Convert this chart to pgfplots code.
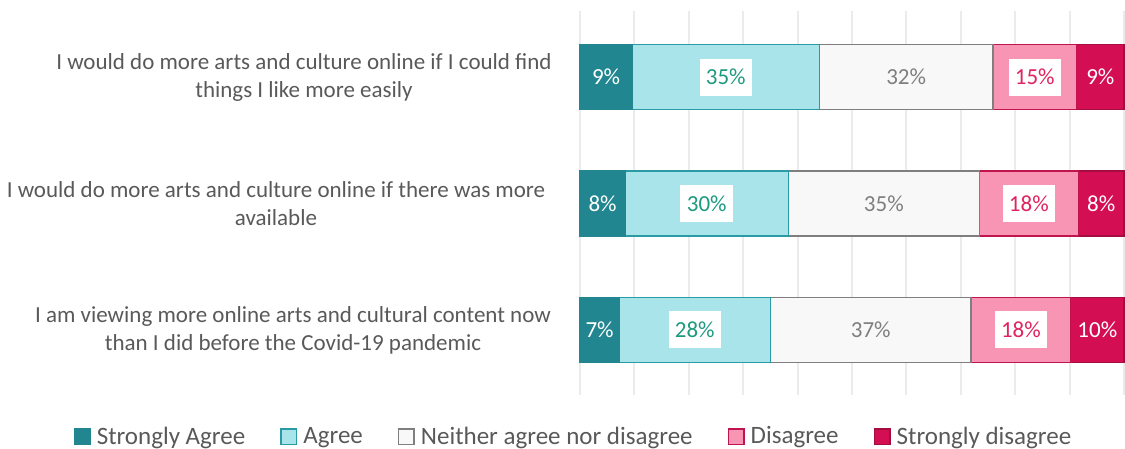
\documentclass[border=0pt]{standalone}
\usepackage{pgfplots}
\pgfplotsset{compat=1.18}
\usepackage{fontspec}
\setmainfont{Carlito}
\definecolor{sa}{HTML}{21868F}
\definecolor{ag}{HTML}{A9E4EA}
\definecolor{agb}{HTML}{2A9AA4}
\definecolor{agt}{HTML}{1E9A80}
\definecolor{ne}{HTML}{F8F8F8}
\definecolor{neb}{HTML}{7F7F7F}
\definecolor{di}{HTML}{F895B5}
\definecolor{dib}{HTML}{C0144F}
\definecolor{dit}{HTML}{E0245F}
\definecolor{sd}{HTML}{D40E52}
\definecolor{sdb}{HTML}{A50C40}
\definecolor{txt}{HTML}{595959}
\definecolor{gridc}{HTML}{EBEBEB}
\newcommand{\lblfont}{\fontsize{11.5}{14}\selectfont}
\tikzset{boxed/.style={fill=white, inner xsep=3.2pt, minimum height=18.5pt}}
\pgfplotsset{
  geom/.style={at={(290pt,27pt)}, anchor=south west,
    scale only axis, width=272pt, height=192pt,
    xmin=0, xmax=100, ymin=-0.514, ymax=2.522, clip=false},
  lbl/.style={draw=none, mark=none, nodes near coords, point meta=explicit symbolic,
    nodes near coords align={center},
    every node near coord/.append style={anchor=center, font=\lblfont}},
}
\begin{document}
\begin{tikzpicture}
\useasboundingbox (0,0) rectangle (562.5pt,224.5pt);
\begin{axis}[
  geom,
  xbar stacked, bar width=32.5pt,
  xtick={0,10,...,100}, xticklabels={},
  ytick=\empty,
  xmajorgrids, grid style={gridc, line width=1pt},
  axis line style={draw=none}, tick style={draw=none},
  legend columns=5,
  legend style={draw=none, fill=none, at={(-0.011,-0.109)}, anchor=center,
     font=\fontsize{12.5}{15}\selectfont, text=txt,
     /tikz/every odd column/.append style={column sep=1.5pt},
     /tikz/every even column/.append style={column sep=16pt},
     nodes={inner sep=1.5pt}},
  legend image code/.code={\draw[#1, line width=0.75pt] (0pt,-3.9pt) rectangle (7.8pt,3.9pt);},
]
\addplot[fill=sa, draw=sa, line width=0.75pt]
  coordinates {(7.2,0) (8.3,1) (9.6,2)};
\addplot[fill=ag, draw=agb, line width=0.75pt]
  coordinates {(27.8,0) (30.0,1) (34.4,2)};
\addplot[fill=ne, draw=neb, line width=0.75pt]
  coordinates {(36.9,0) (35.1,1) (31.9,2)};
\addplot[fill=di, draw=dib, line width=0.75pt]
  coordinates {(18.3,0) (18.2,1) (15.4,2)};
\addplot[fill=sd, draw=sdb, line width=0.75pt]
  coordinates {(9.8,0) (8.4,1) (8.7,2)};
\legend{Strongly Agree, Agree, Neither agree nor disagree, Disagree, Strongly disagree}
\node[align=center, text=txt, font=\lblfont, xshift=-138pt] at (axis cs:0,2)
  {I would do more arts and culture online if I could find\\things I like more easily};
\node[align=center, text=txt, font=\lblfont, xshift=-152pt] at (axis cs:0,1)
  {I would do more arts and culture online if there was more\\available};
\node[align=center, text=txt, font=\lblfont, xshift=-143.5pt] at (axis cs:0,0)
  {I am viewing more online arts and cultural content now\\than I did before the Covid-19 pandemic};
\end{axis}
% value labels, centred in each segment (segment centres from the data above)
\begin{axis}[geom, hide axis]
\addplot[lbl, nodes near coords style={text=white}]
  coordinates {(3.6,0) [7\%] (4.15,1) [8\%] (4.8,2) [9\%]};
\addplot[lbl, nodes near coords style={text=agt, boxed}]
  coordinates {(21.1,0) [28\%] (23.3,1) [30\%] (26.8,2) [35\%]};
\addplot[lbl, nodes near coords style={text=neb}]
  coordinates {(53.45,0) [37\%] (55.85,1) [35\%] (59.95,2) [32\%]};
\addplot[lbl, nodes near coords style={text=dit, boxed}]
  coordinates {(81.05,0) [18\%] (82.5,1) [18\%] (83.6,2) [15\%]};
\addplot[lbl, nodes near coords style={text=white}]
  coordinates {(95.1,0) [10\%] (95.8,1) [8\%] (95.65,2) [9\%]};
\end{axis}
\end{tikzpicture}
\end{document}
